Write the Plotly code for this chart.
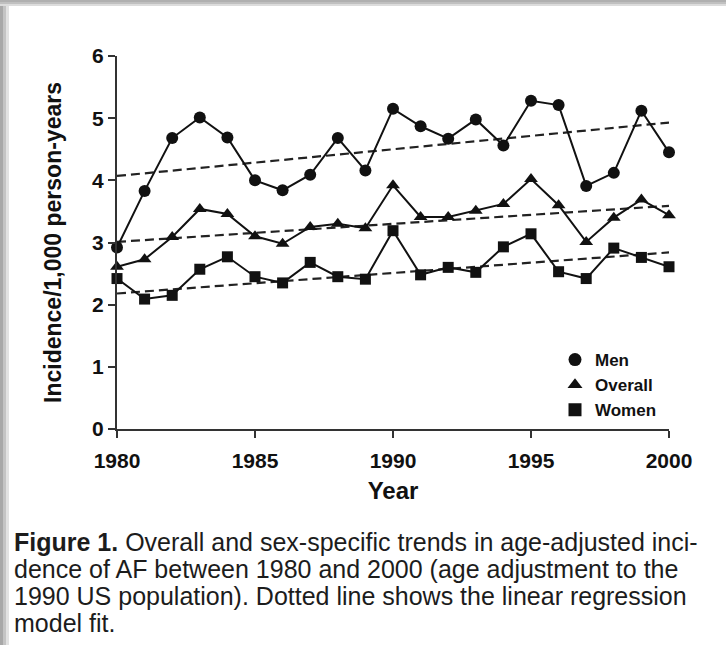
import plotly.graph_objects as go

years = list(range(1980, 2001))
men = [2.92, 3.83, 4.68, 5.01, 4.69, 4.00, 3.84, 4.09, 4.68, 4.16, 5.15,
       4.87, 4.67, 4.98, 4.56, 5.28, 5.21, 3.91, 4.12, 5.12, 4.45]
overall = [2.61, 2.73, 3.09, 3.54, 3.46, 3.10, 2.98, 3.25, 3.30, 3.23, 3.92,
           3.41, 3.41, 3.51, 3.62, 4.02, 3.60, 3.01, 3.40, 3.69, 3.44]
women = [2.42, 2.09, 2.15, 2.57, 2.77, 2.45, 2.35, 2.68, 2.45, 2.41, 3.19,
         2.48, 2.60, 2.52, 2.93, 3.14, 2.53, 2.42, 2.91, 2.76, 2.61]

fit_years = [1980, 2000]
men_fit = [4.07, 4.93]
overall_fit = [3.01, 3.59]
women_fit = [2.18, 2.84]

series_names = ["Men", "Overall", "Women"]
symbols = ["circle", "triangle-up", "square"]
x_ticks = [1980, 1985, 1990, 1995, 2000]
y_ticks = [0, 1, 2, 3, 4, 5, 6]

caption_lines = [
    "<b>Figure 1.</b> Overall and sex-specific trends in age-adjusted inci-",
    "dence of AF between 1980 and 2000 (age adjustment to the",
    "1990 US population). Dotted line shows the linear regression",
    "model fit.",
]

fig = go.Figure()

for fit in [men_fit, overall_fit, women_fit]:
    fig.add_trace(go.Scatter(x=fit_years, y=fit, mode="lines",
                             line=dict(color="#222", width=2.2, dash="9px,5px"),
                             showlegend=False, hoverinfo="skip", cliponaxis=False))

sizes = [12, 12, 11]
for name, vals, sym, sz in zip(series_names, [men, overall, women], symbols, sizes):
    fig.add_trace(go.Scatter(x=years, y=vals, mode="lines+markers", name=name,
                             line=dict(color="#111", width=2),
                             marker=dict(symbol=sym, size=sz, color="#111"),
                             showlegend=False, cliponaxis=False))

for name, sym in zip(series_names, symbols):
    fig.add_trace(go.Scatter(x=[None], y=[None], mode="markers", name=name,
                             marker=dict(symbol=sym, size=13, color="#111"),
                             legendgroup=name, showlegend=True))

W, H = 726, 645
L, R, T, B = 117, 57, 56, 216
PW, PH = W - L - R, H - T - B
TOP = H - B  # pixels from plot bottom up to figure top

bold = dict(family="Liberation Sans, Arial, sans-serif", weight="bold", color="#111")

fig.update_layout(
    width=W, height=H,
    margin=dict(l=L, r=R, t=T, b=B, pad=0),
    paper_bgcolor="white", plot_bgcolor="white",
    font=dict(family="Liberation Sans, Arial, sans-serif", color="#111"),
    xaxis=dict(range=[1980, 2000], tickvals=x_ticks, ticks="outside", ticklen=7,
               tickwidth=2, tickcolor="#333", showline=True, linecolor="#333", linewidth=2,
               showgrid=False, zeroline=False, ticklabelstandoff=5,
               tickfont=dict(size=21, **bold),
               title=dict(text="Year", font=dict(size=24, **bold), standoff=11)),
    yaxis=dict(range=[0, 6], tickvals=y_ticks, ticks="outside", ticklen=7,
               tickwidth=2, tickcolor="#333", showline=True, linecolor="#333", linewidth=2,
               showgrid=False, zeroline=False,
               tickfont=dict(size=21, **bold),
               title=dict(text="Incidence/1,000 person-years", font=dict(size=23, **bold), standoff=24)),
    legend=dict(x=(555 - L) / PW, y=(TOP - 342) / PH, xanchor="left", yanchor="top",
                bgcolor="rgba(0,0,0,0)", font=dict(size=17, **bold),
                tracegroupgap=0, itemwidth=30),
    showlegend=True,
)

# gray frame shading on top and left edges
for off, col in [(0, "#a8a8a8"), (3, "#c4c4c4"), (6, "#e2e2e2")]:
    fig.add_shape(type="rect", xref="paper", yref="paper", xsizemode="pixel", ysizemode="pixel",
                  xanchor=0, yanchor=0, x0=-L + off, x1=-L + off + 3, y0=-B, y1=TOP,
                  line=dict(width=0), fillcolor=col, layer="below")
for off, col in [(0, "#b0b0b0"), (2, "#c0c0c0"), (4, "#dcdcdc")]:
    fig.add_shape(type="rect", xref="paper", yref="paper", xsizemode="pixel", ysizemode="pixel",
                  xanchor=0, yanchor=0, x0=-L, x1=W - L, y0=TOP - off - 2, y1=TOP - off,
                  line=dict(width=0), fillcolor=col, layer="below")

line_centers = [542, 569, 596, 623]
for txt, yc in zip(caption_lines, line_centers):
    fig.add_annotation(text=txt, xref="paper", yref="paper",
                       x=(12 - L) / PW, y=(TOP - yc) / PH,
                       xanchor="left", yanchor="middle", align="left", showarrow=False,
                       font=dict(size=25, family="Liberation Sans, Arial", color="#1c1c1c"))

fig.write_html("out.html", config={"displayModeBar": False},
               post_script="document.body.style.margin='0';document.body.style.overflow='hidden';")
